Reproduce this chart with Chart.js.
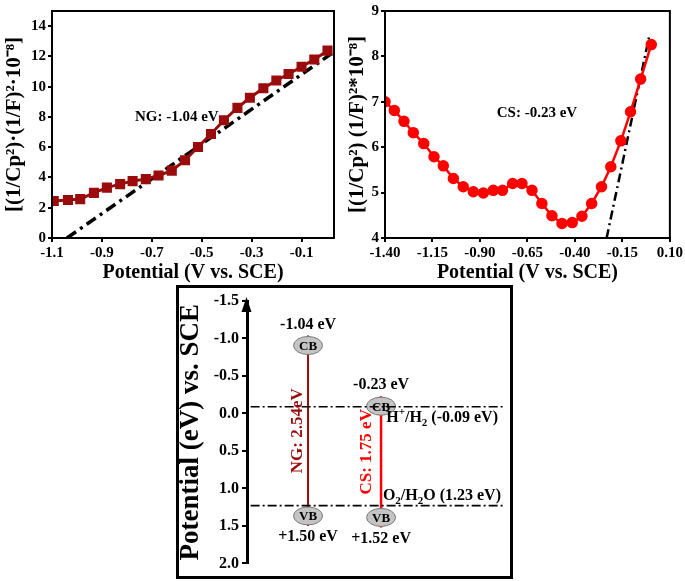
<!DOCTYPE html>
<html>
<head>
<meta charset="utf-8">
<script src="https://cdn.jsdelivr.net/npm/chart.js@4.4.1/dist/chart.umd.min.js"></script>
<style>
  body { margin: 0; background: #fff; }
  #wrap { position: relative; width: 685px; height: 581px; overflow: hidden; }
  canvas { position: absolute; }
  #c1 { left: 0; top: 0; }
  #c2 { left: 340px; top: 0; }
  #box { position: absolute; left: 176px; top: 285px; width: 337px; height: 294px; border: 3px solid #000; box-sizing: border-box; }
  #c3 { left: 178px; top: 287px; }
</style>
</head>
<body>
<div id="wrap">
  <canvas id="c1" width="342" height="290"></canvas>
  <canvas id="c2" width="345" height="290"></canvas>
  <div id="box"></div>
  <canvas id="c3" width="332" height="289"></canvas>
</div>
<script>
// NG Mott-Schottky
const ngPotential = [-1.093, -1.036, -0.987, -0.932, -0.880, -0.827, -0.777, -0.724, -0.673, -0.620, -0.567, -0.515, -0.463, -0.411, -0.357, -0.307, -0.253, -0.201, -0.152, -0.100, -0.049, 0.004];
const ngValue = [2.44, 2.51, 2.57, 2.98, 3.33, 3.56, 3.76, 3.89, 4.13, 4.45, 5.14, 6.01, 6.87, 7.78, 8.60, 9.27, 9.89, 10.41, 10.84, 11.32, 11.80, 12.38];
const ngFitX = [-1.04, 0.03];
const ngFitY = [0, 12.3];
const ngTicksX = [-1.1, -0.9, -0.7, -0.5, -0.3, -0.1];
const ngTicksY = [0, 2, 4, 6, 8, 10, 12, 14];

// CS Mott-Schottky
const csPotential = [-1.400, -1.351, -1.300, -1.251, -1.196, -1.142, -1.093, -1.040, -0.988, -0.935, -0.882, -0.830, -0.781, -0.728, -0.679, -0.626, -0.574, -0.521, -0.468, -0.414, -0.363, -0.312, -0.260, -0.211, -0.158, -0.107, -0.054, 0.002];
const csValue = [7.00, 6.81, 6.57, 6.32, 6.08, 5.79, 5.59, 5.31, 5.13, 5.02, 4.99, 5.05, 5.05, 5.20, 5.20, 5.05, 4.76, 4.49, 4.32, 4.34, 4.48, 4.76, 5.13, 5.57, 6.14, 6.78, 7.50, 8.26];
const csFitX = [-0.233, -0.009];
const csFitY = [4, 8.44];
const csTicksX = [-1.40, -1.15, -0.90, -0.65, -0.40, -0.15, 0.10];
const csTicksY = [4, 5, 6, 7, 8, 9];

// band diagram
const materials = ['NG', 'CS'];
const cbEdge = [-1.04, -0.23];
const vbEdge = [1.50, 1.52];
const cbLabels = ['-1.04 eV', '-0.23 eV'];
const vbLabels = ['+1.50 eV', '+1.52 eV'];
const gapLabels = ['NG: 2.54eV', 'CS: 1.75 eV'];
const redoxValues = [-0.09, 1.23];
const redoxLabels = [
    [['H'], ['+', 'sup'], ['/H'], ['2', 'sub'], [' (-0.09 eV)']],
    [['O'], ['2', 'sub'], ['/H'], ['2', 'sub'], ['O (1.23 eV)']]
];
const bandTicks = [-1.5, -1.0, -0.5, 0, 0.5, 1.0, 1.5, 2.0];

const SERIF = "'Liberation Serif', 'Times New Roman', serif";
const ngColor = '#9a0c0c';
const csColor = '#ff0000';
Chart.defaults.color = '#000';

function pts(xs, ys) {
    return xs.map((x, i) => ({ x: x, y: ys[i] }));
}

// box round the plot area
const framePlugin = {
    id: 'frame',
    afterDraw(chart) {
        const { ctx, chartArea: a } = chart;
        ctx.save();
        ctx.strokeStyle = '#000';
        ctx.lineWidth = 2;
        ctx.strokeRect(a.left, a.top, a.right - a.left, a.bottom - a.top);
        ctx.restore();
    }
};

const notePlugin = {
    id: 'note',
    afterDatasetsDraw(chart, args, opts) {
        const ctx = chart.ctx;
        ctx.save();
        ctx.font = 'bold 15px ' + SERIF;
        ctx.fillStyle = '#000';
        ctx.textAlign = 'center';
        ctx.textBaseline = 'middle';
        ctx.fillText(opts.text, chart.scales.x.getPixelForValue(opts.x), chart.scales.y.getPixelForValue(opts.y));
        ctx.restore();
    }
};

function msAxes(xMin, xMax, xTicks, xDec, yMin, yMax, yTicks, yTitle, yWidth, yTitlePad, yTitleSize) {
    const tickFont = { family: SERIF, weight: 'bold', size: 15 };
    return {
        x: {
            type: 'linear', min: xMin, max: xMax,
            afterBuildTicks: s => { s.ticks = xTicks.map(v => ({ value: v })); },
            afterFit: s => { s.height = 52; },
            ticks: { font: tickFont, maxRotation: 0, autoSkip: false, padding: 2, callback: v => v.toFixed(xDec) },
            grid: { drawOnChartArea: false, color: '#000', lineWidth: 2, tickLength: 4 },
            border: { color: '#000', width: 2 },
            title: { display: true, text: 'Potential (V vs. SCE)', font: { family: SERIF, weight: 'bold', size: 20 }, padding: { top: 0, bottom: 5 } }
        },
        y: {
            min: yMin, max: yMax,
            afterBuildTicks: s => { s.ticks = yTicks.map(v => ({ value: v })); },
            afterFit: s => { s.width = yWidth; },
            ticks: { font: tickFont, padding: 2, callback: v => String(v) },
            grid: { drawOnChartArea: false, color: '#000', lineWidth: 2, tickLength: 4 },
            border: { color: '#000', width: 2 },
            title: { display: true, text: yTitle, font: { family: SERIF, weight: 'bold', size: yTitleSize, lineHeight: 1 }, padding: { top: yTitlePad, bottom: 0 } }
        }
    };
}

new Chart(document.getElementById('c1'), {
    type: 'scatter',
    data: {
        datasets: [{
            data: pts(ngPotential, ngValue),
            showLine: true,
            borderColor: ngColor,
            backgroundColor: ngColor,
            borderWidth: 3,
            pointStyle: 'rect',
            pointRadius: 5
        }, {
            data: pts(ngFitX, ngFitY),
            showLine: true,
            borderColor: '#000',
            borderWidth: 3.5,
            borderDash: [11, 5, 3, 5],
            pointRadius: 0
        }]
    },
    options: {
        responsive: false, animation: false, events: [],
        layout: { padding: { top: 7, right: 7 } },
        plugins: {
            legend: { display: false }, tooltip: { enabled: false },
            note: { text: 'NG: -1.04 eV', x: -0.6, y: 8.0 }
        },
        scales: msAxes(-1.1, 0.03, ngTicksX, 1, 0, 15, ngTicksY, '[(1/Cp\u00b2)\u00b7(1/F)\u00b2\u00b710\u207b\u2078]', 52, 4, 21)
    },
    plugins: [framePlugin, notePlugin]
});

new Chart(document.getElementById('c2'), {
    type: 'scatter',
    data: {
        datasets: [{
            data: pts(csPotential, csValue),
            showLine: true,
            borderColor: csColor,
            backgroundColor: csColor,
            borderWidth: 2.5,
            pointRadius: 4.5
        }, {
            data: pts(csFitX, csFitY),
            showLine: true,
            borderColor: '#000',
            borderWidth: 2.5,
            borderDash: [9, 4, 2, 4],
            pointRadius: 0
        }]
    },
    options: {
        responsive: false, animation: false, events: [],
        layout: { padding: { top: 7, right: 15 } },
        plugins: {
            legend: { display: false }, tooltip: { enabled: false },
            note: { text: 'CS: -0.23 eV', x: -0.6, y: 6.76 }
        },
        scales: msAxes(-1.40, 0.10, csTicksX, 2, 4, 9, csTicksY, '[(1/Cp\u00b2) (1/F)\u00b2*10\u207b\u2078]', 45, 7, 21)
    },
    plugins: [framePlugin, notePlugin]
});

// text with super/subscripts
function drawRich(ctx, parts, x, y, size) {
    const big = 'bold ' + size + 'px ' + SERIF;
    const small = 'bold ' + Math.round(size * 0.68) + 'px ' + SERIF;
    let w = 0;
    parts.forEach(p => { ctx.font = p[1] ? small : big; w += ctx.measureText(p[0]).width; });
    let cx = x - w;
    ctx.textAlign = 'left';
    ctx.textBaseline = 'middle';
    parts.forEach(p => {
        ctx.font = p[1] ? small : big;
        let dy = 0;
        if (p[1] === 'sup') dy = -6;
        if (p[1] === 'sub') dy = 5;
        ctx.fillText(p[0], cx, y + dy);
        cx += ctx.measureText(p[0]).width;
    });
}

function pill(ctx, x, y, text) {
    ctx.beginPath();
    ctx.ellipse(x, y, 14.5, 9, 0, 0, Math.PI * 2);
    ctx.fillStyle = '#c4c4c4';
    ctx.fill();
    ctx.strokeStyle = '#777';
    ctx.lineWidth = 1;
    ctx.stroke();
    ctx.fillStyle = '#000';
    ctx.font = 'bold 13px ' + SERIF;
    ctx.textAlign = 'center';
    ctx.textBaseline = 'middle';
    ctx.fillText(text, x, y + 1);
}

let pillsDone = false;
const bandPlugin = {
    id: 'bands',
    beforeDraw() { pillsDone = false; },
    beforeDatasetDraw(chart, args) {
        if (pillsDone || chart.data.datasets[args.index].role !== 'redox') return;
        pillsDone = true;
        const ctx = chart.ctx, xs = chart.scales.x, ys = chart.scales.y;
        ctx.save();
        materials.forEach((m, i) => {
            const px = xs.getPixelForValue(i + 1);
            pill(ctx, px, ys.getPixelForValue(cbEdge[i]) + 10, 'CB');
            pill(ctx, px, ys.getPixelForValue(vbEdge[i]) - 10, 'VB');
        });
        ctx.restore();
    },
    afterDraw(chart) {
        const ctx = chart.ctx, xs = chart.scales.x, ys = chart.scales.y, a = chart.chartArea;
        ctx.save();
        // arrow head on the potential axis
        ctx.fillStyle = '#000';
        ctx.beginPath();
        ctx.moveTo(a.left - 0.5, a.top - 4);
        ctx.lineTo(a.left - 5.5, a.top + 11);
        ctx.lineTo(a.left + 4.5, a.top + 11);
        ctx.closePath();
        ctx.fill();

        ctx.font = 'bold 16px ' + SERIF;
        ctx.textAlign = 'center';
        ctx.textBaseline = 'middle';
        materials.forEach((m, i) => {
            const px = xs.getPixelForValue(i + 1);
            ctx.fillStyle = '#000';
            ctx.fillText(cbLabels[i], px, ys.getPixelForValue(cbEdge[i]) - 11);
            ctx.fillText(vbLabels[i], px, ys.getPixelForValue(vbEdge[i]) + 11);
        });
        ctx.font = 'bold 17px ' + SERIF;
        materials.forEach((m, i) => {
            const px = xs.getPixelForValue(i + 1);
            ctx.save();
            ctx.translate(px - (i === 0 ? 10 : 14), ys.getPixelForValue((cbEdge[i] + vbEdge[i]) / 2) - (i === 0 ? 0 : 10));
            ctx.rotate(-Math.PI / 2);
            ctx.fillStyle = i === 0 ? ngColor : csColor;
            ctx.fillText(gapLabels[i], 0, 0);
            ctx.restore();
        });
        ctx.fillStyle = '#000';
        drawRich(ctx, redoxLabels[0], a.right - 5, ys.getPixelForValue(redoxValues[0]) + 11, 16);
        drawRich(ctx, redoxLabels[1], a.right - 2, ys.getPixelForValue(redoxValues[1]) - 10, 16);
        ctx.restore();
    }
};

const bandXMin = 0.164, bandXMax = 3.67;
const bandSets = materials.map((m, i) => ({
    data: [{ x: i + 1, y: cbEdge[i] }, { x: i + 1, y: vbEdge[i] }],
    showLine: true,
    borderColor: i === 0 ? ngColor : csColor,
    borderWidth: i === 0 ? 2 : 2.5,
    pointRadius: 0,
    order: 1
}));
const redoxSets = redoxValues.map(v => ({
    role: 'redox',
    data: [{ x: bandXMin + 0.05, y: v }, { x: bandXMax, y: v }],
    showLine: true,
    borderColor: '#000',
    borderWidth: 1.6,
    borderDash: [9, 3, 2, 3],
    pointRadius: 0,
    order: 0
}));

new Chart(document.getElementById('c3'), {
    type: 'scatter',
    data: { datasets: redoxSets.concat(bandSets) },
    options: {
        responsive: false, animation: false, events: [],
        layout: { padding: { top: 14, right: 7, bottom: 10 } },
        plugins: { legend: { display: false }, tooltip: { enabled: false } },
        scales: {
            x: { type: 'linear', display: false, min: bandXMin, max: bandXMax },
            y: {
                min: -1.5, max: 2.0, reverse: true,
                afterBuildTicks: s => { s.ticks = bandTicks.map(v => ({ value: v })); },
                afterFit: s => { s.width = 69; },
                ticks: { font: { family: SERIF, weight: 'bold', size: 16 }, padding: 3, callback: v => v.toFixed(1) },
                grid: { drawOnChartArea: false, color: '#000', lineWidth: 2, tickLength: 5 },
                border: { color: '#000', width: 3 },
                title: { display: true, text: 'Potential (eV) vs. SCE', font: { family: SERIF, weight: 'bold', size: 27, lineHeight: 1 }, padding: 0 }
            }
        }
    },
    plugins: [bandPlugin]
});
</script>
</body>
</html>
